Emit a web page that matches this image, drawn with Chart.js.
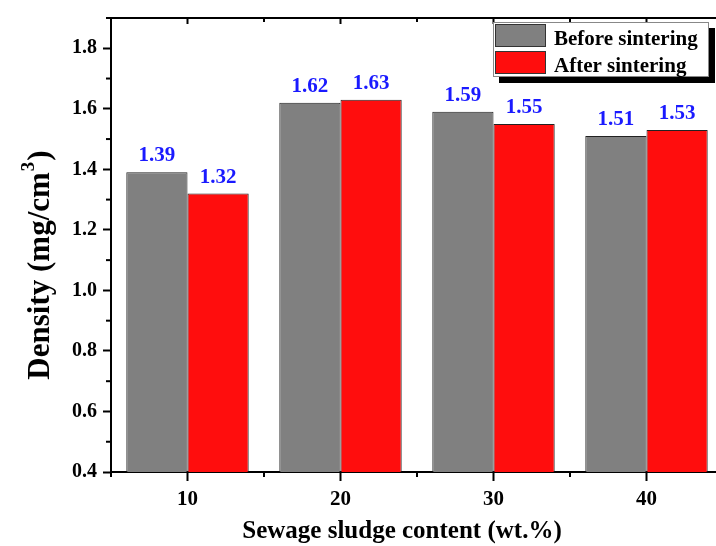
<!DOCTYPE html>
<html>
<head>
<meta charset="utf-8">
<script src="https://cdn.jsdelivr.net/npm/chart.js@4.4.1/dist/chart.umd.min.js"></script>
<style>
  html, body { margin: 0; padding: 0; background: #fff; overflow: hidden; }
  #wrap { width: 740px; height: 546px; }
</style>
</head>
<body>
<div id="wrap"><canvas id="densityChart" width="740" height="546"></canvas></div>
<script>
// chart data
var contentLabels = ["10", "20", "30", "40"];
var beforeSintering = [1.39, 1.62, 1.59, 1.51];
var afterSintering = [1.32, 1.63, 1.55, 1.53];
var yTicks = [0.4, 0.6, 0.8, 1.0, 1.2, 1.4, 1.6, 1.8];
var yMinorTicks = [0.5, 0.7, 0.9, 1.1, 1.3, 1.5, 1.7, 1.9];
var xTitle = "Sewage sludge content (wt.%)";
var yTitle = ["Density (mg/cm", "3", ")"];

var serif = "'Liberation Serif', 'Times New Roman', serif";

// extra ticks, top frame line
var frameTicks = {
  id: "frameTicks",
  afterDraw: function (chart) {
    var ctx = chart.ctx;
    var area = chart.chartArea;
    var x = chart.scales.x;
    var y = chart.scales.y;
    ctx.save();
    ctx.strokeStyle = "#000";
    ctx.lineWidth = 2;
    // top frame
    ctx.beginPath();
    ctx.moveTo(area.left - 1, area.top);
    ctx.lineTo(area.right + 20, area.top);
    ctx.stroke();
    // y minor ticks
    yMinorTicks.forEach(function (v) {
      var py = y.getPixelForValue(v);
      ctx.beginPath();
      ctx.moveTo(area.left - 5, py);
      ctx.lineTo(area.left, py);
      ctx.stroke();
    });
    // x minor ticks (category boundaries) + top ticks
    var step = (area.right - area.left) / contentLabels.length;
    for (var i = 0; i <= contentLabels.length; i++) {
      var px = area.left + i * step;
      ctx.beginPath();
      ctx.moveTo(px, area.bottom);
      ctx.lineTo(px, area.bottom + 5);
      ctx.moveTo(px, area.top);
      ctx.lineTo(px, area.top + 4);
      ctx.stroke();
    }
    contentLabels.forEach(function (lab, i) {
      var px = x.getPixelForValue(i);
      ctx.beginPath();
      ctx.moveTo(px, area.top);
      ctx.lineTo(px, area.top + 6);
      ctx.stroke();
    });
    ctx.restore();
  }
};

// axis titles (the reference centres them off the plot middle)
var axisTitles = {
  id: "axisTitles",
  afterDraw: function (chart) {
    var ctx = chart.ctx;
    ctx.save();
    ctx.fillStyle = "#000";
    ctx.textBaseline = "alphabetic";
    // x title
    ctx.font = "bold 25px " + serif;
    ctx.textAlign = "center";
    ctx.fillText(xTitle, 402, 538);
    // y title, rotated, with superscript 3
    ctx.translate(49, 266);
    ctx.rotate(-Math.PI / 2);
    var big = "bold 31px " + serif;
    var small = "bold 19px " + serif;
    ctx.font = big;
    var w0 = ctx.measureText(yTitle[0]).width;
    var w2 = ctx.measureText(yTitle[2]).width;
    ctx.font = small;
    var w1 = ctx.measureText(yTitle[1]).width;
    var start = -(w0 + w1 + w2) / 2;
    ctx.textAlign = "left";
    ctx.font = big;
    ctx.fillText(yTitle[0], start, 0);
    ctx.font = small;
    ctx.fillText(yTitle[1], start + w0 + 1, -15);
    ctx.font = big;
    ctx.fillText(yTitle[2], start + w0 + w1 + 2, 0);
    ctx.restore();
  }
};

// value labels above bars
var valueLabels = {
  id: "valueLabels",
  afterDatasetsDraw: function (chart) {
    var ctx = chart.ctx;
    ctx.save();
    ctx.fillStyle = "#1a1aff";
    ctx.font = "bold 21px " + serif;
    ctx.textAlign = "center";
    ctx.textBaseline = "alphabetic";
    chart.data.datasets.forEach(function (ds, di) {
      var meta = chart.getDatasetMeta(di);
      meta.data.forEach(function (bar, i) {
        ctx.fillText(ds.data[i].toFixed(2), bar.x, bar.y - 11);
      });
    });
    ctx.restore();
  }
};

// boxed legend with shadow
var boxLegend = {
  id: "boxLegend",
  afterDraw: function (chart) {
    var ctx = chart.ctx;
    var bx = 493, by = 22, bw = 216, bh = 55;
    ctx.save();
    ctx.fillStyle = "#000";
    ctx.fillRect(bx + 6, by + 6, bw, bh);
    ctx.fillStyle = "#fff";
    ctx.fillRect(bx, by, bw, bh);
    ctx.strokeStyle = "#888";
    ctx.lineWidth = 1;
    ctx.strokeRect(bx + 0.5, by + 0.5, bw - 1, bh - 1);
    ctx.font = "bold 21px " + serif;
    ctx.textBaseline = "alphabetic";
    chart.data.datasets.forEach(function (ds, i) {
      var sy = by + 2 + i * 27;
      ctx.fillStyle = ds.backgroundColor;
      ctx.fillRect(bx + 2, sy, 51, 23);
      ctx.strokeStyle = "#333";
      ctx.strokeRect(bx + 2.5, sy + 0.5, 50, 22);
      ctx.fillStyle = "#000";
      ctx.fillText(ds.label, bx + 61, sy + 21);
    });
    ctx.restore();
  }
};

var ctx = document.getElementById("densityChart").getContext("2d");
var densityChart = new Chart(ctx, {
  type: "bar",
  data: {
    labels: contentLabels,
    datasets: [
      {
        label: "Before sintering",
        data: beforeSintering,
        backgroundColor: "#808080",
        borderColor: "#222",
        borderWidth: 1,
        categoryPercentage: 0.8,
        barPercentage: 1.0
      },
      {
        label: "After sintering",
        data: afterSintering,
        backgroundColor: "#ff0d0d",
        borderColor: "#222",
        borderWidth: 1,
        categoryPercentage: 0.8,
        barPercentage: 1.0
      }
    ]
  },
  options: {
    responsive: false,
    animation: false,
    layout: { padding: { left: 24, top: 16, right: 17, bottom: 0 } },
    plugins: {
      legend: { display: false },
      tooltip: { enabled: false }
    },
    scales: {
      x: {
        grid: {
          offset: false,
          drawOnChartArea: false,
          tickLength: 9,
          tickWidth: 2,
          tickColor: "#000"
        },
        border: { color: "#000", width: 2 },
        ticks: {
          color: "#000",
          padding: 6,
          font: { family: serif, size: 21, weight: "bold" }
        },
        afterFit: function (scale) { scale.height = 74; }
      },
      y: {
        min: 0.4,
        max: 1.9,
        grid: {
          drawOnChartArea: false,
          tickLength: 8,
          tickWidth: 2,
          tickColor: "#000"
        },
        border: { color: "#000", width: 2 },
        ticks: {
          color: "#000",
          padding: 6,
          font: { family: serif, size: 20, weight: "bold" },
          callback: function (v) { return v.toFixed(1); }
        },
        afterBuildTicks: function (scale) {
          scale.ticks = yTicks.map(function (v) { return { value: v }; });
        },
        afterFit: function (scale) { scale.width = 87; }
      }
    }
  },
  plugins: [frameTicks, axisTitles, valueLabels, boxLegend]
});
</script>
</body>
</html>
